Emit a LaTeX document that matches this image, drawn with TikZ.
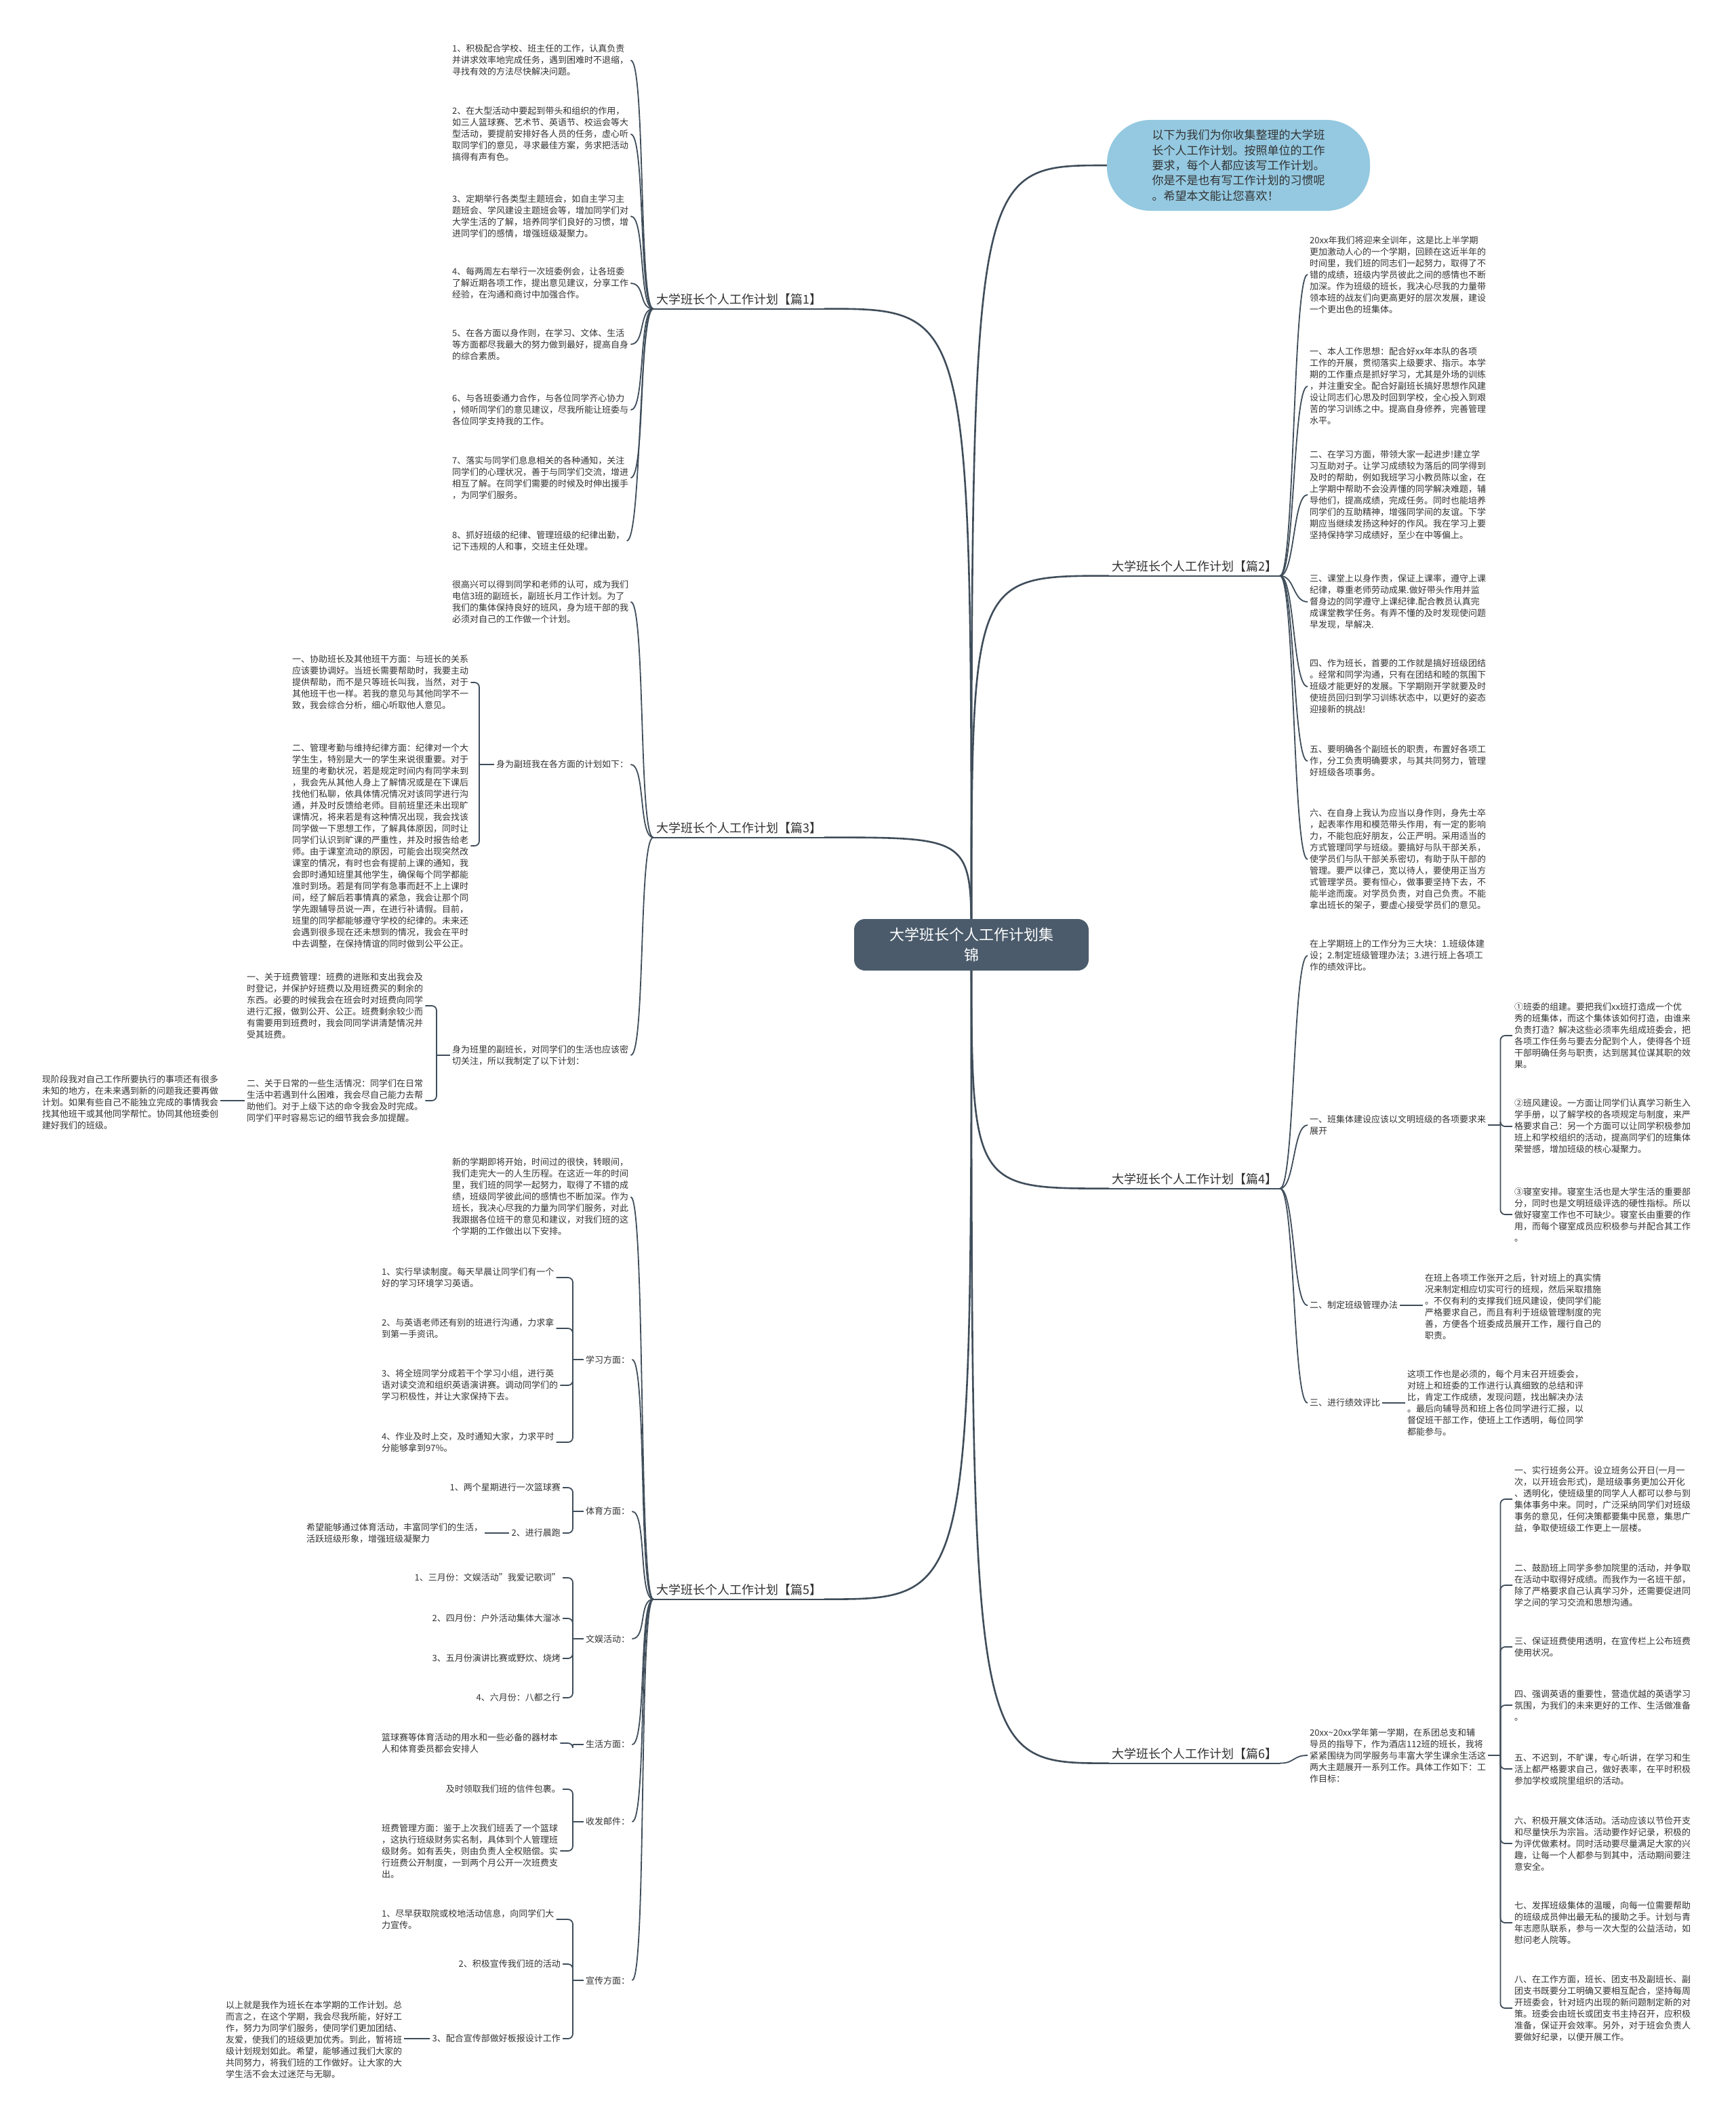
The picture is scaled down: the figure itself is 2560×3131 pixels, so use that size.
\documentclass[tikz,border=0pt]{standalone}
\usepackage{fontspec}
\setmainfont{Noto Sans CJK SC}
\usetikzlibrary{backgrounds}
\definecolor{ln}{HTML}{3F4D5A}
\definecolor{ctrfill}{HTML}{4B5B6B}
\definecolor{bub}{HTML}{94C9E1}
\definecolor{txt}{HTML}{333333}
\begin{document}
\begin{tikzpicture}[x=1pt,y=-1pt,
  txtn/.style={font=\fontsize{13}{17}\selectfont,align=left,inner sep=3pt,text=txt},
  lbl/.style={font=\fontsize{18}{22}\selectfont,inner xsep=4pt,inner ysep=5pt,text=txt},
  ctrbox/.style={fill=ctrfill,text=white,rounded corners=16pt,minimum width=346pt,minimum height=76pt,align=center,font=\fontsize{22}{30}\selectfont},
  bubble/.style={fill=bub,text=txt,rounded corners=64pt,minimum width=388pt,minimum height=134pt,align=left,font=\fontsize{17}{22.4}\selectfont},
  lv1/.style={draw=ln,line width=2.6pt},
  lv2/.style={draw=ln,line width=1.8pt},
  brk/.style={draw=ln,line width=1.8pt,rounded corners=7pt},
]
\useasboundingbox (0,0) rectangle (2560,3131);

% ---------- centre and level 1 ----------
\node[ctrbox] (ctr) at (1433,1394) {大学班长个人工作计划集\\锦};
\node[bubble] (intro) at (1827,244) {以下为我们为你收集整理的大学班\\长个人工作计划。按照单位的工作\\要求，每个人都应该写工作计划。\\你是不是也有写工作计划的习惯呢\\。希望本文能让您喜欢！};
\node[lbl] (L1) at (1090,442) {大学班长个人工作计划【篇1】};
\node[lbl] (L3) at (1090,1222) {大学班长个人工作计划【篇3】};
\node[lbl] (L5) at (1090,2346) {大学班长个人工作计划【篇5】};
\node[lbl] (L2) at (1762,836) {大学班长个人工作计划【篇2】};
\node[lbl] (L4) at (1762,1740) {大学班长个人工作计划【篇4】};
\node[lbl] (L6) at (1762,2588) {大学班长个人工作计划【篇6】};

% ---------- 篇1 ----------
\node[txtn,anchor=west] (a1) at (664,89) {1、积极配合学校、班主任的工作，认真负责\\并讲求效率地完成任务，遇到困难时不退缩，\\寻找有效的方法尽快解决问题。};
\node[txtn,anchor=west] (a2) at (664,198) {2、在大型活动中要起到带头和组织的作用，\\如三人篮球赛、艺术节、英语节、校运会等大\\型活动，要提前安排好各人员的任务，虚心听\\取同学们的意见，寻求最佳方案，务求把活动\\搞得有声有色。};
\node[txtn,anchor=west] (a3) at (664,319) {3、定期举行各类型主题班会，如自主学习主\\题班会、学风建设主题班会等，增加同学们对\\大学生活的了解，培养同学们良好的习惯，增\\进同学们的感情，增强班级凝聚力。};
\node[txtn,anchor=west] (a4) at (664,418) {4、每两周左右举行一次班委例会，让各班委\\了解近期各项工作，提出意见建议，分享工作\\经验，在沟通和商讨中加强合作。};
\node[txtn,anchor=west] (a5) at (664,508) {5、在各方面以身作则，在学习、文体、生活\\等方面都尽我最大的努力做到最好，提高自身\\的综合素质。};
\node[txtn,anchor=west] (a6) at (664,605) {6、与各班委通力合作，与各位同学齐心协力\\，倾听同学们的意见建议，尽我所能让班委与\\各位同学支持我的工作。};
\node[txtn,anchor=west] (a7) at (664,705) {7、落实与同学们息息相关的各种通知，关注\\同学们的心理状况，善于与同学们交流，增进\\相互了解。在同学们需要的时候及时伸出援手\\，为同学们服务。};
\node[txtn,anchor=west] (a8) at (664,798) {8、抓好班级的纪律、管理班级的纪律出勤，\\记下违规的人和事，交班主任处理。};

% ---------- 篇3 ----------
\node[txtn,anchor=west] (c0) at (664,888) {很高兴可以得到同学和老师的认可，成为我们\\电信3班的副班长，副班长月工作计划。为了\\我们的集体保持良好的班风，身为班干部的我\\必须对自己的工作做一个计划。};
\node[txtn,anchor=west] (c1) at (729,1128) {身为副班我在各方面的计划如下：};
\node[txtn,anchor=west] (c1a) at (428,1007) {一、协助班长及其他班干方面：与班长的关系\\应该要协调好。当班长需要帮助时，我要主动\\提供帮助，而不是只等班长叫我，当然，对于\\其他班干也一样。若我的意见与其他同学不一\\致，我会综合分析，细心听取他人意见。};
\node[txtn,anchor=west] (c1b) at (428,1248) {二、管理考勤与维持纪律方面：纪律对一个大\\学生生，特别是大一的学生来说很重要。对于\\班里的考勤状况，若是规定时间内有同学未到\\，我会先从其他人身上了解情况或是在下课后\\找他们私聊，依具体情况情况对该同学进行沟\\通，并及时反馈给老师。目前班里还未出现旷\\课情况，将来若是有这种情况出现，我会找该\\同学做一下思想工作，了解具体原因，同时让\\同学们认识到旷课的严重性，并及时报告给老\\师。由于课室流动的原因，可能会出现突然改\\课室的情况，有时也会有提前上课的通知，我\\会即时通知班里其他学生，确保每个同学都能\\准时到场。若是有同学有急事而赶不上上课时\\间，经了解后若事情真的紧急，我会让那个同\\学先跟辅导员说一声，在进行补请假。目前，\\班里的同学都能够遵守学校的纪律的。未来还\\会遇到很多现在还未想到的情况，我会在平时\\中去调整，在保持情谊的同时做到公平公正。};
\node[txtn,anchor=west] (c2) at (664,1557) {身为班里的副班长，对同学们的生活也应该密\\切关注，所以我制定了以下计划：};
\node[txtn,anchor=west] (c2a) at (361,1484) {一、关于班费管理：班费的进账和支出我会及\\时登记，并保护好班费以及用班费买的剩余的\\东西。必要的时候我会在班会时对班费向同学\\进行汇报，做到公开、公正。班费剩余较少而\\有需要用到班费时，我会同同学讲清楚情况并\\受其班费。};
\node[txtn,anchor=west] (c2b) at (361,1624) {二、关于日常的一些生活情况：同学们在日常\\生活中若遇到什么困难，我会尽自己能力去帮\\助他们。对于上级下达的命令我会及时完成。\\同学们平时容易忘记的细节我会多加提醒。};
\node[txtn,anchor=west] (c2b1) at (59,1627) {现阶段我对自己工作所要执行的事项还有很多\\未知的地方，在未来遇到新的问题我还要再做\\计划。如果有些自己不能独立完成的事情我会\\找其他班干或其他同学帮忙。协同其他班委创\\建好我们的班级。};

% ---------- 篇5 ----------
\node[txtn,anchor=west] (e0) at (664,1766) {新的学期即将开始，时间过的很快，转眼间，\\我们走完大一的人生历程。在这近一年的时间\\里，我们班的同学一起努力，取得了不错的成\\绩，班级同学彼此间的感情也不断加深。作为\\班长，我决心尽我的力量为同学们服务，对此\\我跟据各位班干的意见和建议，对我们班的这\\个学期的工作做出以下安排。};
\node[txtn,anchor=west] (e1) at (861,2006) {学习方面：};
\node[txtn,anchor=west] (e1a) at (560,1885) {1、实行早读制度。每天早晨让同学们有一个\\好的学习环境学习英语。};
\node[txtn,anchor=west] (e1b) at (560,1960) {2、与英语老师还有别的班进行沟通，力求拿\\到第一手资讯。};
\node[txtn,anchor=west] (e1c) at (560,2044) {3、将全班同学分成若干个学习小组，进行英\\语对读交流和组织英语演讲赛。调动同学们的\\学习积极性，并让大家保持下去。};
\node[txtn,anchor=west] (e1d) at (560,2128) {4、作业及时上交，及时通知大家，力求平时\\分能够拿到97\%。};
\node[txtn,anchor=west] (e2) at (861,2230) {体育方面：};
\node[txtn,anchor=east] (e2a) at (830,2195) {1、两个星期进行一次篮球赛};
\node[txtn,anchor=east] (e2b) at (830,2262) {2、进行晨跑};
\node[txtn,anchor=west] (e2b1) at (449,2262) {希望能够通过体育活动，丰富同学们的生活，\\活跃班级形象，增强班级凝聚力};
\node[txtn,anchor=west] (e3) at (861,2418) {文娱活动：};
\node[txtn,anchor=east] (e3a) at (830,2328) {1、三月份：文娱活动"我爱记歌词"};
\node[txtn,anchor=east] (e3b) at (830,2388) {2、四月份：户外活动集体大溜冰};
\node[txtn,anchor=east] (e3c) at (830,2447) {3、五月份演讲比赛或野炊、烧烤};
\node[txtn,anchor=east] (e3d) at (830,2505) {4、六月份：八都之行};
\node[txtn,anchor=west] (e4) at (861,2574) {生活方面：};
\node[txtn,anchor=west] (e4a) at (560,2572) {篮球赛等体育活动的用水和一些必备的器材本\\人和体育委员都会安排人};
\node[txtn,anchor=west] (e5) at (861,2688) {收发邮件：};
\node[txtn,anchor=east] (e5a) at (830,2640) {及时领取我们班的信件包裹。};
\node[txtn,anchor=west] (e5b) at (560,2731) {班费管理方面：鉴于上次我们班丢了一个篮球\\，这执行班级财务实名制，具体到个人管理班\\级财务。如有丢失，则由负责人全权赔偿。实\\行班费公开制度，一到两个月公开一次班费支\\出。};
\node[txtn,anchor=west] (e6) at (861,2922) {宣传方面：};
\node[txtn,anchor=west] (e6a) at (560,2832) {1、尽早获取院或校地活动信息，向同学们大\\力宣传。};
\node[txtn,anchor=east] (e6b) at (830,2898) {2、积极宣传我们班的活动};
\node[txtn,anchor=east] (e6c) at (830,3008) {3、配合宣传部做好板报设计工作};
\node[txtn,anchor=west] (e6c1) at (330,3009) {以上就是我作为班长在本学期的工作计划。总\\而言之，在这个学期，我会尽我所能，好好工\\作，努力为同学们服务，使同学们更加团结、\\友爱，使我们的班级更加优秀。到此，暂将班\\级计划规划如此。希望，能够通过我们大家的\\共同努力，将我们班的工作做好。让大家的大\\学生活不会太过迷茫与无聊。};

% ---------- 篇2 ----------
\node[txtn,anchor=west] (b0) at (1929,405) {20xx年我们将迎来全训年，这是比上半学期\\更加激动人心的一个学期，回顾在这近半年的\\时间里，我们班的同志们一起努力，取得了不\\错的成绩，班级内学员彼此之间的感情也不断\\加深。作为班级的班长，我决心尽我的力量带\\领本班的战友们向更高更好的层次发展，建设\\一个更出色的班集体。};
\node[txtn,anchor=west] (b1) at (1929,570) {一、本人工作思想：配合好xx年本队的各项\\工作的开展，贯彻落实上级要求、指示。本学\\期的工作重点是抓好学习，尤其是外场的训练\\，并注重安全。配合好副班长搞好思想作风建\\设让同志们心思及时回到学校，全心投入到艰\\苦的学习训练之中。提高自身修养，完善管理\\水平。};
\node[txtn,anchor=west] (b2) at (1929,730) {二、在学习方面，带领大家一起进步!建立学\\习互助对子。让学习成绩较为落后的同学得到\\及时的帮助，例如我班学习小教员陈以金，在\\上学期中帮助不会没弄懂的同学解决难题，辅\\导他们，提高成绩，完成任务。同时也能培养\\同学们的互助精神，增强同学间的友谊。下学\\期应当继续发扬这种好的作风。我在学习上要\\坚持保持学习成绩好，至少在中等偏上。};
\node[txtn,anchor=west] (b3) at (1929,888) {三、课堂上以身作责，保证上课率，遵守上课\\纪律，尊重老师劳动成果.做好带头作用并监\\督身边的同学遵守上课纪律.配合教员认真完\\成课堂教学任务。有弄不懂的及时发现使问题\\早发现，早解决.};
\node[txtn,anchor=west] (b4) at (1929,1013) {四、作为班长，首要的工作就是搞好班级团结\\。经常和同学沟通，只有在团结和睦的氛围下\\班级才能更好的发展。下学期刚开学就要及时\\使班员回归到学习训练状态中，以更好的姿态\\迎接新的挑战!};
\node[txtn,anchor=west] (b5) at (1929,1123) {五、要明确各个副班长的职责，布置好各项工\\作，分工负责明确要求，与其共同努力，管理\\好班级各项事务。};
\node[txtn,anchor=west] (b6) at (1929,1268) {六、在自身上我认为应当以身作则，身先士卒\\，起表率作用和模范带头作用，有一定的影响\\力，不能包庇好朋友，公正严明。采用适当的\\方式管理同学与班级。要搞好与队干部关系，\\使学员们与队干部关系密切，有助于队干部的\\管理。要严以律己，宽以待人，要使用正当方\\式管理学员。要有恒心，做事要坚持下去，不\\能半途而废。对学员负责，对自己负责。不能\\拿出班长的架子，要虚心接受学员们的意见。};

% ---------- 篇4 ----------
\node[txtn,anchor=west] (d0) at (1929,1410) {在上学期班上的工作分为三大块：1.班级体建\\设；2.制定班级管理办法；3.进行班上各项工\\作的绩效评比。};
\node[txtn,anchor=west] (d1) at (1929,1660) {一、班集体建设应该以文明班级的各项要求来\\展开};
\node[txtn,anchor=west] (d1a) at (2231,1528) {①班委的组建。要把我们xx班打造成一个优\\秀的班集体，而这个集体该如何打造，由谁来\\负责打造？解决这些必须率先组成班委会，把\\各项工作任务与要去分配到个人，使得各个班\\干部明确任务与职责，达到居其位谋其职的效\\果。};
\node[txtn,anchor=west] (d1b) at (2231,1662) {②班风建设。一方面让同学们认真学习新生入\\学手册，以了解学校的各项规定与制度，来严\\格要求自己：另一个方面可以让同学积极参加\\班上和学校组织的活动，提高同学们的班集体\\荣誉感，增加班级的核心凝聚力。};
\node[txtn,anchor=west] (d1c) at (2231,1792) {③寝室安排。寝室生活也是大学生活的重要部\\分，同时也是文明班级评选的硬性指标。所以\\做好寝室工作也不可缺少。寝室长由重要的作\\用，而每个寝室成员应积极参与并配合其工作\\。};
\node[txtn,anchor=west] (d2) at (1929,1926) {二、制定班级管理办法};
\node[txtn,anchor=west] (d2a) at (2099,1928) {在班上各项工作张开之后，针对班上的真实情\\况来制定相应切实可行的班规，然后采取措施\\。不仅有利的支撑我们班风建设，使同学们能\\严格要求自己，而且有利于班级管理制度的完\\善，方便各个班委成员展开工作，履行自己的\\职责。};
\node[txtn,anchor=west] (d3) at (1929,2070) {三、进行绩效评比};
\node[txtn,anchor=west] (d3a) at (2073,2070) {这项工作也是必须的，每个月末召开班委会，\\对班上和班委的工作进行认真细致的总结和评\\比，肯定工作成绩，发现问题，找出解决办法\\。最后向辅导员和班上各位同学进行汇报，以\\督促班干部工作，使班上工作透明，每位同学\\都能参与。};

% ---------- 篇6 ----------
\node[txtn,anchor=west] (f0) at (1929,2590) {20xx\textasciitilde 20xx学年第一学期，在系团总支和辅\\导员的指导下，作为酒店112班的班长，我将\\紧紧围绕为同学服务与丰富大学生课余生活这\\两大主题展开一系列工作。具体工作如下：工\\作目标：};
\node[txtn,anchor=west] (f1) at (2231,2212) {一、实行班务公开。设立班务公开日(一月一\\次，以开班会形式)，是班级事务更加公开化\\、透明化，使班级里的同学人人都可以参与到\\集体事务中来。同时，广泛采纳同学们对班级\\事务的意见，任何决策都要集中民意，集思广\\益，争取使班级工作更上一层楼。};
\node[txtn,anchor=west] (f2) at (2231,2339) {二、鼓励班上同学多参加院里的活动，并争取\\在活动中取得好成绩。而我作为一名班干部，\\除了严格要求自己认真学习外，还需要促进同\\学之间的学习交流和思想沟通。};
\node[txtn,anchor=west] (f3) at (2231,2430) {三、保证班费使用透明，在宣传栏上公布班费\\使用状况。};
\node[txtn,anchor=west] (f4) at (2231,2516) {四、强调英语的重要性，营造优越的英语学习\\氛围，为我们的未来更好的工作、生活做准备\\。};
\node[txtn,anchor=west] (f5) at (2231,2610) {五、不迟到，不旷课，专心听讲，在学习和生\\活上都严格要求自己，做好表率，在平时积极\\参加学校或院里组织的活动。};
\node[txtn,anchor=west] (f6) at (2231,2720) {六、积极开展文体活动。活动应该以节俭开支\\和尽量快乐为宗旨。活动要作好记录，积极的\\为评优做素材。同时活动要尽量满足大家的兴\\趣，让每一个人都参与到其中，活动期间要注\\意安全。};
\node[txtn,anchor=west] (f7) at (2231,2837) {七、发挥班级集体的温暖，向每一位需要帮助\\的班级成员伸出最无私的援助之手。计划与青\\年志愿队联系，参与一次大型的公益活动，如\\慰问老人院等。};
\node[txtn,anchor=west] (f8) at (2231,2963) {八、在工作方面，班长、团支书及副班长、副\\团支书既要分工明确又要相互配合，坚持每周\\开班委会，针对班内出现的新问题制定新的对\\策。班委会由班长或团支书主持召开，应积极\\准备，保证开会效率。另外，对于班会负责人\\要做好纪录，以便开展工作。};

% ---------- connectors ----------
\begin{pgfonlayer}{background}
\fill[white] (0,0) rectangle (2560,3131);
% centre to level 1
\foreach \n in {L1,L3,L5}
  \draw[lv1] (ctr.center) .. controls (ctr.center |- \n.south east) .. (\n.south east);
\foreach \n in {L2,L4,L6}
  \draw[lv1] (ctr.center) .. controls (ctr.center |- \n.south west) .. (\n.south west);
\draw[lv1] (ctr.center) .. controls (ctr.center |- intro.west) .. (intro.west);
% underlines
\foreach \n in {L1,L2,L3,L4,L5,L6}
  \draw[lv2] (\n.south west) -- (\n.south east);
% level 1 to level 2
\foreach \c in {a1,a2,a3,a4,a5,a6,a7,a8}
  \draw[lv2] (L1.south west) .. controls +(-22,0) and +(22,0) .. (\c.east);
\foreach \c in {c0,c1,c2}
  \draw[lv2] (L3.south west) .. controls +(-22,0) and +(22,0) .. (\c.east);
\foreach \c in {e0,e1,e2,e3,e4,e5,e6}
  \draw[lv2] (L5.south west) .. controls +(-22,0) and +(22,0) .. (\c.east);
\foreach \c in {b0,b1,b2,b3,b4,b5,b6}
  \draw[lv2] (L2.south east) .. controls +(22,0) and +(-22,0) .. (\c.west);
\foreach \c in {d0,d1,d2,d3}
  \draw[lv2] (L4.south east) .. controls +(22,0) and +(-22,0) .. (\c.west);
\draw[lv2] (L6.south east) .. controls +(22,0) and +(-22,0) .. (f0.west);
% brackets, left side
\draw[lv2] (c1.west) -- ++(-22,0) coordinate (h31);
\foreach \c in {c1a,c1b} \draw[brk] (h31) |- (\c.east);
\draw[lv2] (c2.west) -- ++(-20,0) coordinate (h32);
\foreach \c in {c2a,c2b} \draw[brk] (h32) |- (\c.east);
\draw[lv2] (c2b.west) -- (c2b.west -| c2b1.east);
\draw[lv2] (e1.west) -- ++(-16,0) coordinate (h51);
\foreach \c in {e1a,e1b,e1c,e1d} \draw[brk] (h51) |- (\c.east);
\draw[lv2] (e2.west) -- ++(-16,0) coordinate (h52);
\foreach \c in {e2a,e2b} \draw[brk] (h52) |- (\c.east);
\draw[lv2] (e2b.west) -- (e2b.west -| e2b1.east);
\draw[lv2] (e3.west) -- ++(-16,0) coordinate (h53);
\foreach \c in {e3a,e3b,e3c,e3d} \draw[brk] (h53) |- (\c.east);
\draw[lv2] (e4.west) -- ++(-16,0) coordinate (h54);
\draw[brk] (h54) |- (e4a.east);
\draw[lv2] (e5.west) -- ++(-16,0) coordinate (h55);
\foreach \c in {e5a,e5b} \draw[brk] (h55) |- (\c.east);
\draw[lv2] (e6.west) -- ++(-16,0) coordinate (h56);
\foreach \c in {e6a,e6b,e6c} \draw[brk] (h56) |- (\c.east);
\draw[lv2] (e6c.west) -- (e6c.west -| e6c1.east);
% brackets, right side
\draw[lv2] (d1.east) -- ++(18,0) coordinate (h41);
\foreach \c in {d1a,d1b,d1c} \draw[brk] (h41) |- (\c.west);
\draw[lv2] (d2.east) -- (d2.east -| d2a.west);
\draw[lv2] (d3.east) -- (d3.east -| d3a.west);
\draw[lv2] (f0.east) -- ++(18,0) coordinate (h61);
\foreach \c in {f1,f2,f3,f4,f5,f6,f7,f8} \draw[brk] (h61) |- (\c.west);
\end{pgfonlayer}
\end{tikzpicture}
\end{document}
